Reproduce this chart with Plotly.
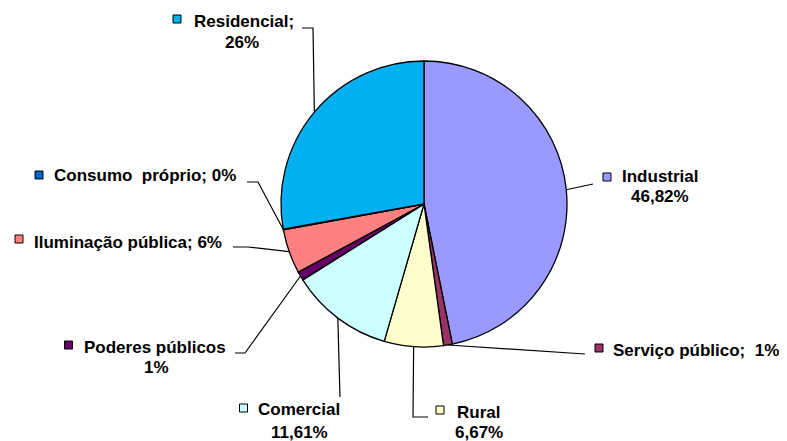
import math
import plotly.graph_objects as go

# ---- data ----
categories = ["Industrial", "Serviço público", "Rural", "Comercial",
              "Poderes públicos", "Iluminação pública", "Consumo próprio", "Residencial"]
values = [46.82, 1.0, 6.67, 11.61, 1.0, 5.0, 0.1, 27.8]
label_line1 = ["Industrial", "Serviço público;&nbsp; 1%", "Rural", "Comercial",
               "Poderes públicos", "Iluminação pública; 6%", "Consumo&nbsp; próprio; 0%", "Residencial;"]
label_line2 = ["46,82%", "", "6,67%", "11,61%", "1%", "", "", "26%"]
colors = ["#9999FF", "#993366", "#FFFFCC", "#CCFFFF",
          "#660066", "#FF8080", "#0066CC", "#00B0F0"]

# ---- layout geometry (page pixels; the page body has an 8px margin) ----
OFF = 8
W, H = 787 - OFF, 441 - OFF
CX, CY, R = 424, 204, 143

text1_pos = [(660, 177), (696, 350), (478, 412), (299, 409),
             (155, 347), (128, 242), (145, 175), (244, 22)]
text2_pos = [(660, 197), None, (479, 432), (299, 432),
             (156, 367), None, None, (242, 42)]
square_pos = [(607, 177), (599, 348), (440, 410), (243.5, 408),
              (68.5, 345), (19, 239), (39, 175), (177, 19)]
leader_pts = [[(593, 184)], [(585, 354)], [(428, 417), (413, 417)], [(340, 397)],
              [(235, 353), (245, 353)], [(233, 247), (248, 247)],
              [(247, 182), (258, 182)], [(302, 28), (313, 28)]]

FONT = "Liberation Sans, Arial, sans-serif"
FS = 17


def px(x):
    return (x - OFF) / W


def py(y):
    return 1 - (y - OFF) / H


fig = go.Figure()
fig.add_trace(go.Pie(
    labels=categories, values=values, sort=False, direction="clockwise", rotation=0,
    marker=dict(colors=colors, line=dict(color="black", width=1.3)),
    textinfo="none", showlegend=False,
    domain=dict(x=[px(CX - R), px(CX + R)], y=[py(CY + R), py(CY - R)]),
))

total = sum(values)
cum = 0.0
shapes = []
annotations = []
for i, v in enumerate(values):
    mid = (cum + v / 2) / total * 2 * math.pi
    cum += v
    ex = CX + R * math.sin(mid)
    ey = CY - R * math.cos(mid)
    pts = leader_pts[i] + [(ex, ey)]
    path = "M " + " L ".join(f"{px(x):.5f},{py(y):.5f}" for x, y in pts)
    shapes.append(dict(type="path", path=path, xref="paper", yref="paper",
                       line=dict(color="black", width=1.2)))
    sx, sy = square_pos[i]
    shapes.append(dict(type="rect", xref="paper", yref="paper",
                       x0=px(sx - 4), x1=px(sx + 4), y0=py(sy + 4), y1=py(sy - 4),
                       fillcolor=colors[i], line=dict(color="black", width=1)))
    tx, ty = text1_pos[i]
    annotations.append(dict(text=f"<b>{label_line1[i]}</b>", x=px(tx), y=py(ty),
                            xref="paper", yref="paper", xanchor="center", yanchor="middle",
                            showarrow=False, font=dict(family=FONT, size=FS, color="black")))
    if text2_pos[i] is not None:
        tx, ty = text2_pos[i]
        annotations.append(dict(text=f"<b>{label_line2[i]}</b>", x=px(tx), y=py(ty),
                                xref="paper", yref="paper", xanchor="center", yanchor="middle",
                                showarrow=False, font=dict(family=FONT, size=FS, color="black")))

fig.update_layout(
    width=W, height=H, margin=dict(l=0, r=0, t=0, b=0),
    paper_bgcolor="white", plot_bgcolor="white",
    shapes=shapes, annotations=annotations,
)

fig.write_html("out.html")
